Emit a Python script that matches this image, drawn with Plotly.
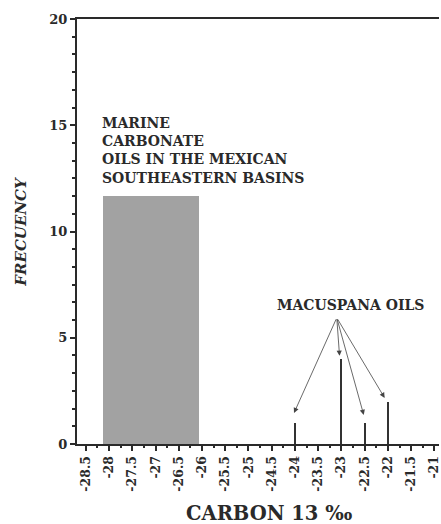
import plotly.graph_objects as go

# Carbon-13 isotope values (per mil) and sample frequencies
marine_center = [-27.1]
marine_width = [2.07]
marine_freq = [11.65]

macuspana_carbon = [-24.0, -23.0, -22.5, -22.0]
macuspana_freq = [1, 4, 1, 2]

x_tickvals = [-28.5, -28, -27.5, -27, -26.5, -26, -25.5, -25, -24.5, -24,
              -23.5, -23, -22.5, -22, -21.5, -21]
x_ticktext = ["-28.5", "-28", "-27.5", "-27", "-26.5", "-26", "-25.5", "-25",
              "-24.5", "-24", "-23.5", "-23", "-22.5", "-22", "-21.5", "-21"]
y_tickvals = [0, 5, 10, 15, 20]

# arrow label anchor and the spike tops the arrows point to
label_anchor = (-23.10, 5.94)
arrow_targets_x = [-24.02, -23.04, -22.52, -22.07]
arrow_targets_y = [1.46, 4.15, 1.37, 2.17]

FONT = "DejaVu Serif"
INK = "#2a2a2a"

fig = go.Figure()
fig.add_trace(go.Bar(
    x=marine_center, y=marine_freq, width=marine_width,
    marker=dict(color="#a2a2a2", line=dict(width=0)),
    showlegend=False, hoverinfo="skip",
))
fig.add_trace(go.Bar(
    x=macuspana_carbon, y=macuspana_freq, width=[0.045] * len(macuspana_carbon),
    marker=dict(color="#333333", line=dict(width=0)),
    showlegend=False, hoverinfo="skip",
))

annotations = [
    dict(x=-28.2, y=15.6, xref="x", yref="y", xanchor="left", yanchor="top",
         align="left", showarrow=False,
         text="MARINE<br>CARBONATE<br>OILS IN THE MEXICAN<br>SOUTHEASTERN BASINS",
         font=dict(family=FONT, size=14, color=INK, weight="bold")),
    dict(x=-22.8, y=6.55, xref="x", yref="y", xanchor="center", yanchor="middle",
         showarrow=False, text="MACUSPANA OILS",
         font=dict(family=FONT, size=14, color=INK, weight="bold")),
    dict(x=-0.157, y=0.5, xref="paper", yref="paper", textangle=-90,
         xanchor="center", yanchor="middle", showarrow=False, text="FRECUENCY",
         font=dict(family=FONT, size=15, color=INK, weight="bold", style="italic")),
    dict(x=0.53, y=-0.163, xref="paper", yref="paper", xanchor="center",
         yanchor="middle", showarrow=False, text="CARBON 13 ‰",
         font=dict(family=FONT, size=19.5, color=INK, weight="bold")),
]
for tx, ty in zip(arrow_targets_x, arrow_targets_y):
    annotations.append(dict(
        x=tx, y=ty, xref="x", yref="y",
        ax=label_anchor[0], ay=label_anchor[1], axref="x", ayref="y",
        text="", showarrow=True, arrowhead=2, arrowsize=1.3, arrowwidth=0.8,
        arrowcolor="#444444",
    ))

fig.update_layout(
    width=441, height=524,
    margin=dict(l=77, r=0, t=19, b=80),
    paper_bgcolor="white", plot_bgcolor="white",
    bargap=0, barmode="overlay",
    annotations=annotations,
    xaxis=dict(
        range=[-28.69, -20.9], showgrid=False, zeroline=False,
        showline=True, linecolor=INK, linewidth=2, mirror=True,
        tickmode="array", tickvals=x_tickvals, ticktext=x_ticktext,
        ticks="outside", ticklen=5, tickwidth=1.5, tickcolor=INK,
        ticklabeloverflow="allow",
        tickangle=-90, tickfont=dict(family=FONT, size=12.5, color=INK, weight="bold"),
        minor=dict(dtick=0.25, tick0=-28.5, ticks="outside", ticklen=2,
                   tickwidth=1.5, tickcolor=INK),
    ),
    yaxis=dict(
        range=[0, 20], showgrid=False, zeroline=False,
        showline=True, linecolor=INK, linewidth=2,
        tickmode="array", tickvals=y_tickvals,
        ticks="outside", ticklen=5, tickwidth=1.5, tickcolor=INK,
        tickfont=dict(family=FONT, size=13, color=INK, weight="bold"),
        minor=dict(dtick=5 / 6, tick0=0, ticks="outside", ticklen=3,
                   tickwidth=1.5, tickcolor=INK),
    ),
)

fig.write_html("out.html")
